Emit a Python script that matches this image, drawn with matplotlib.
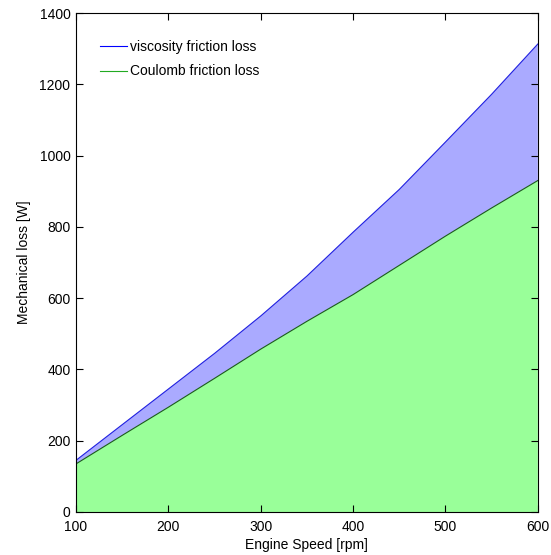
import matplotlib
matplotlib.use("Agg")
import matplotlib.pyplot as plt
from matplotlib.lines import Line2D
import numpy as np

speed = [100, 150, 200, 250, 300, 350, 400, 450, 500, 550, 600]
coulomb = [135, 215, 294, 375, 457, 535, 610, 692, 774, 853, 930]
total = [145, 245, 345, 445, 550, 662, 785, 905, 1038, 1172, 1313]
viscosity = [t - c for t, c in zip(total, coulomb)]

plt.rcParams['font.family'] = ['Liberation Sans', 'DejaVu Sans']
fig = plt.figure(figsize=(5.51, 5.55), dpi=100)
ax = fig.add_axes([0.138, 0.0775, 0.838, 0.899])

x = np.array(speed)
c = np.array(coulomb)
v = np.array(viscosity)
ax.fill_between(x, 0, c, facecolor='#99ff99', edgecolor='none')
ax.fill_between(x, c, c + v, facecolor='#aaaaff', edgecolor='none')
ax.plot(x, c, color='#1a5a1a', lw=0.8)
ax.plot(x, c + v, color='#2020e0', lw=0.8)

ax.set_xlim(100, 600)
ax.set_ylim(0, 1400)
ax.set_xticks([100, 200, 300, 400, 500, 600])
ax.set_yticks([0, 200, 400, 600, 800, 1000, 1200, 1400])
ax.tick_params(direction='in', length=5, width=0.8, labelsize=10, top=True, right=True)
ax.tick_params(axis='y', pad=4)
ax.tick_params(axis='x', pad=5.5)
for s in ax.spines.values():
    s.set_linewidth(0.8)
ax.set_xlabel('Engine Speed [rpm]', fontsize=10, labelpad=3.5)
ax.set_ylabel('Mechanical loss [W]', fontsize=10, labelpad=6)

handles = [Line2D([], [], color='#0000ff', lw=0.8), Line2D([], [], color='#22aa22', lw=0.8)]
ax.legend(handles, ['viscosity friction loss', 'Coulomb friction loss'], loc='upper left',
          bbox_to_anchor=(0.052, 0.946), frameon=False, fontsize=10, handlelength=1.95,
          handletextpad=0.2, labelspacing=0.75, borderpad=0, borderaxespad=0)

fig.savefig('out.png', dpi=100)
